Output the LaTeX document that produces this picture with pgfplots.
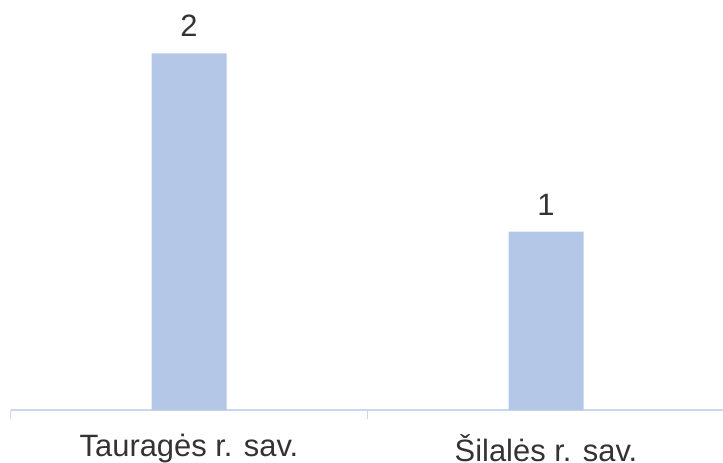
\documentclass[border=0pt]{standalone}
\usepackage{fontspec}
\setmainfont{Liberation Sans}
\usepackage{pgfplots}
\pgfplotsset{compat=1.18}
\definecolor{barblue}{HTML}{B4C7E7}
\definecolor{axisblue}{HTML}{C9D8EE}
\definecolor{txt}{HTML}{333333}

\begin{document}
\begin{tikzpicture}
\begin{axis}[
    scale only axis,
    width=714bp,
    height=410bp,
    ybar,
    bar width=75bp,
    xmin=-0.5, xmax=1.5,
    ymin=0, ymax=2.3,
    xtick={0,1},
    xticklabels={Tauragės r. sav., Šilalės r. sav.},
    minor xtick={-0.5,0.5,1.5},
    major tick length=0pt,
    minor tick length=9bp,
    tick align=outside,
    minor tick style={axisblue, line width=1.5bp},
    ytick=\empty,
    axis x line*=bottom,
    axis y line=none,
    x axis line style={axisblue, line width=1.5bp, -},
    xticklabel style={font=\fontsize{31}{36}\selectfont, text=txt, yshift=-21bp},
    /pgf/number format/assume math mode=true,
    nodes near coords={\pgfmathprintnumber{\pgfplotspointmeta}},
    every node near coord/.append style={font=\fontsize{31}{36}\selectfont, text=txt, yshift=13bp},
]
\addplot[fill=barblue, draw=none] coordinates {(0,2) (1,1)};
\end{axis}
\pgfresetboundingbox
\useasboundingbox (-10.5bp,-53bp) rectangle (712.5bp,410bp);
\end{tikzpicture}
\end{document}
